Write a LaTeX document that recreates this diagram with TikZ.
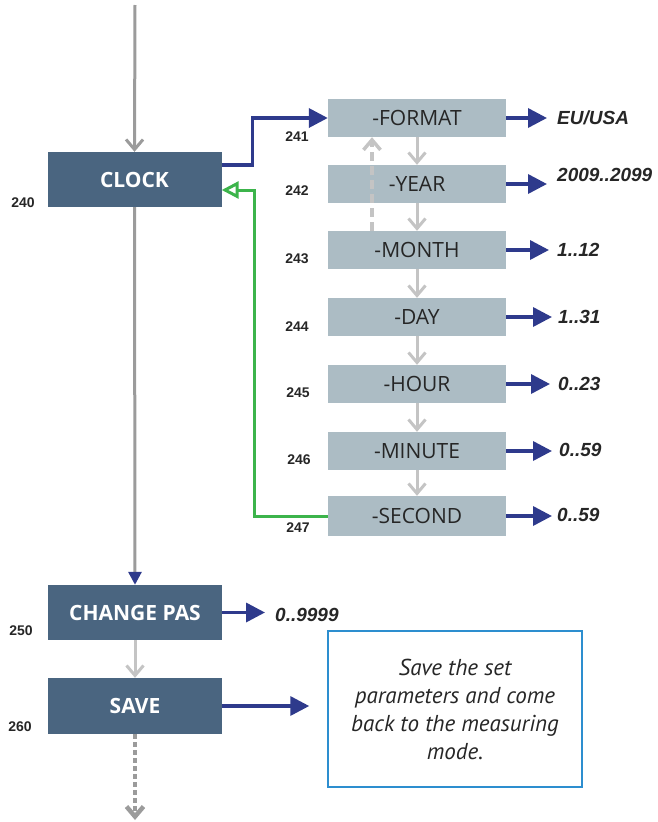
\documentclass[tikz,border=0pt]{standalone}
\usepackage{fontspec}
\setmainfont{Liberation Sans}
\newfontfamily\boxfont{Open Sans}
\newfontfamily\notefont{PT Sans}
\usepackage{tikz}
\usetikzlibrary{arrows.meta}

\begin{document}
\begin{tikzpicture}[x=1pt, y=-1pt,
  darkbox/.style={fill=boxdark, text=white, minimum width=174pt, minimum height=55pt, inner sep=0pt, font=\boxfont\bfseries\fontsize{21}{24}\selectfont},
  lightbox/.style={fill=boxlight, text=black!85, minimum width=178pt, minimum height=38pt, inner sep=0pt, font=\boxfont\fontsize{21}{24}\selectfont},
  num/.style={inner sep=0pt, text=black!85, font=\bfseries\fontsize{14}{16}\selectfont},
  val/.style={anchor=west, inner sep=0pt, text=black!85, font=\bfseries\itshape\fontsize{19}{22}\selectfont},
  navyarrow/.style={draw=navy, line width=3.5pt, -{Triangle[length=19pt,width=19pt]}},
  stepdown/.style={draw=greylight, line width=3pt, -{Straight Barb[length=10pt,width=17pt]}},
  mainline/.style={draw=greymain, line width=3pt},
  backline/.style={draw=backgreen, line width=3pt, -{Triangle[open,fill=white,length=17pt,width=17pt]}}
]
\definecolor{boxdark}{RGB}{74,101,128}
\definecolor{boxlight}{RGB}{172,188,196}
\definecolor{navy}{RGB}{46,58,140}
\definecolor{greymain}{RGB}{155,155,155}
\definecolor{greylight}{RGB}{196,196,196}
\definecolor{backgreen}{RGB}{60,180,75}
\definecolor{noteblue}{RGB}{45,142,207}

\useasboundingbox (0,0) rectangle (657,822);

% Main column
\coordinate (top) at (135,5);
\coordinate (bottom) at (135,820);
\node[darkbox] (clock) at (134.5,179.5) {CLOCK};
\node[darkbox] (changepas) at (135,612.5) {CHANGE PAS};
\node[darkbox, minimum height=56pt] (save) at (135,706) {SAVE};

% Clock settings
\node[lightbox] (format) at (417,118) {-FORMAT};
\node[lightbox] (year) at (417,184) {-YEAR};
\node[lightbox] (month) at (417,250) {-MONTH};
\node[lightbox] (day) at (417,317) {-DAY};
\node[lightbox] (hour) at (417,384) {-HOUR};
\node[lightbox] (minute) at (417,451) {-MINUTE};
\node[lightbox, minimum height=40pt] (second) at (417,516) {-SECOND};

% Labels
\node[num] (n240) at (23,203) {240};
\node[num] (n241) at (297,137) {241};
\node[num] (n242) at (297,191) {242};
\node[num] (n243) at (297,259) {243};
\node[num] (n244) at (297,327) {244};
\node[num] (n245) at (298,393) {245};
\node[num] (n246) at (299,460) {246};
\node[num] (n247) at (298,528) {247};
\node[num] (n250) at (21,631) {250};
\node[num] (n260) at (20,727) {260};

% Values
\node[val] (fmtval) at (557,118) {EU/USA};
\node[val] (yearval) at (557,175) {2009..2099};
\node[val] (monthval) at (557,250) {1..12};
\node[val] (dayval) at (558,317) {1..31};
\node[val] (hourval) at (558,384) {0..23};
\node[val] (minval) at (559,450) {0..59};
\node[val] (secval) at (557,515) {0..59};
\node[val] (pasval) at (275,615) {0..9999};

\node[draw=noteblue, line width=1.5pt, minimum width=254pt, minimum height=156pt, align=center,
  font=\notefont\itshape\fontsize{23}{28}\selectfont, text=black!85] (note) at (455,709)
  {Save the set\\ parameters and come\\ back to the measuring\\ mode.};

% Flow
\draw[mainline, -{Straight Barb[length=10pt,width=17pt]}] (top) -- (clock.north);
\draw[mainline, -{Triangle[length=13pt,width=13pt,color=navy]}] (clock.south) -- (changepas.north);
\draw[stepdown] (changepas.south) -- (save.north);
\draw[mainline, line width=4.5pt, dash pattern=on 5pt off 3pt, -{Straight Barb[length=10pt,width=17pt]}] (save.south) -- (bottom);

\draw[stepdown] (format) -- (year);
\draw[stepdown] (year) -- (month);
\draw[stepdown] (month) -- (day);
\draw[stepdown] (day) -- (hour);
\draw[stepdown] (hour) -- (minute);
\draw[stepdown] (minute) -- (second);
\draw[stepdown, line width=3.5pt, dash pattern=on 9pt off 5pt] ([xshift=-45pt]month.north) -- ([xshift=-45pt]format.south);

\draw[navyarrow] ([yshift=14.5pt]clock.east) -- ++(31,0) |- (format.west);
\draw[backline] (second.west) -- ++(-73,0) |- ([yshift=-10.5pt]clock.east);

% Outputs
\draw[navyarrow, shorten >=10pt] (format.east) -- (format.east -| fmtval.west);
\draw[navyarrow, shorten >=10pt] (year.east) -- (year.east -| yearval.west);
\draw[navyarrow, shorten >=8pt] (month.east) -- (month.east -| monthval.west);
\draw[navyarrow, shorten >=6pt] (day.east) -- (day.east -| dayval.west);
\draw[navyarrow, shorten >=8pt] (hour.east) -- (hour.east -| hourval.west);
\draw[navyarrow, shorten >=7pt] (minute.east) -- (minute.east -| minval.west);
\draw[navyarrow, shorten >=5pt] (second.east) -- (second.east -| secval.west);
\draw[navyarrow, shorten >=10pt] (changepas.east) -- (changepas.east -| pasval.west);
\draw[navyarrow, shorten >=18pt] (save.east) -- (save.east -| note.west);

\end{tikzpicture}
\end{document}
